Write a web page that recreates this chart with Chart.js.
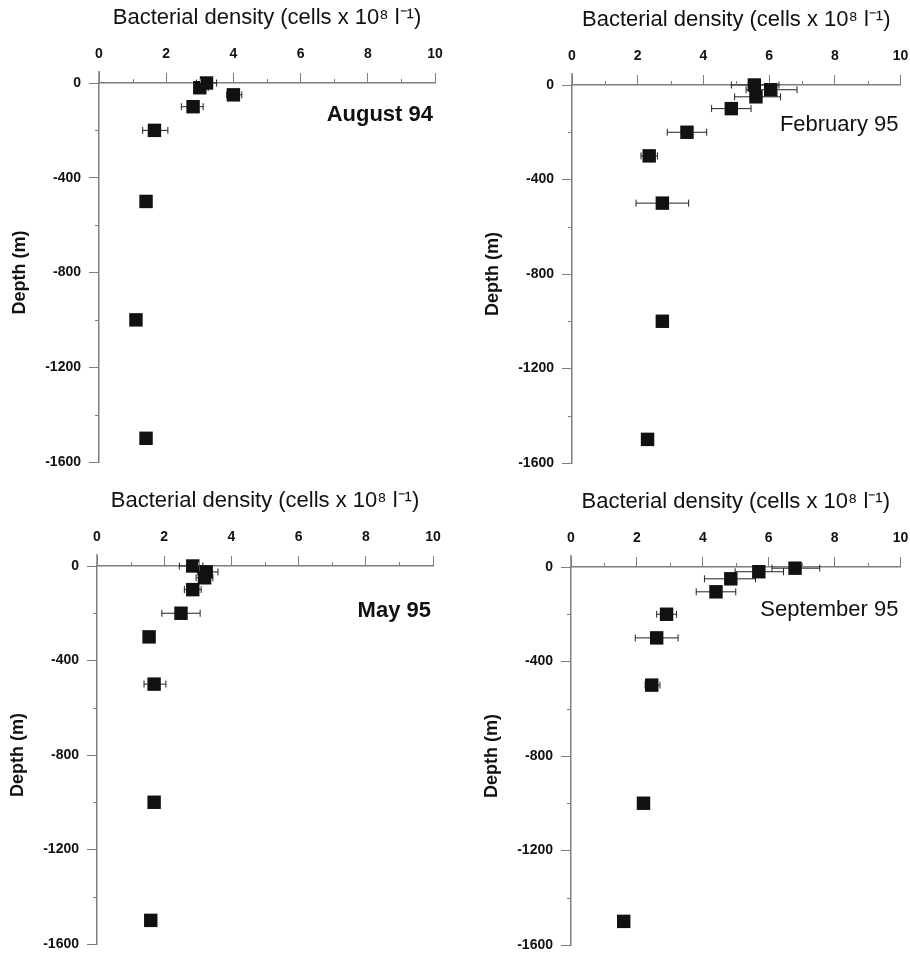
<!DOCTYPE html>
<html>
<head>
<meta charset="utf-8">
<script src="https://cdn.jsdelivr.net/npm/chart.js@4/dist/chart.umd.min.js"></script>
<style>
  html, body { margin: 0; padding: 0; background: #fff; }
  #figure { position: relative; width: 910px; height: 955px; overflow: hidden; }
  .panel { position: absolute; }
</style>
</head>
<body>
<div id="figure"></div>
<script>
// Bacterial density (cells x 10^8 l-1) vs depth (m), four cruises
const augDepth   = [0, -20, -50, -100, -200, -500, -1000, -1500];
const augDensity = [3.2, 3.0, 4.0, 2.8, 1.65, 1.4, 1.1, 1.4];
const augLo      = [2.9, 2.85, 3.8, 2.45, 1.3, null, null, null];
const augHi      = [3.5, 3.25, 4.25, 3.1, 2.05, null, null, null];

const febDepth   = [0, -20, -50, -100, -200, -300, -500, -1000, -1500];
const febDensity = [5.55, 6.05, 5.6, 4.85, 3.5, 2.35, 2.75, 2.75, 2.3];
const febLo      = [4.85, 5.3, 4.95, 4.25, 2.9, 2.1, 1.95, null, null];
const febHi      = [6.3, 6.85, 6.35, 5.45, 4.1, 2.6, 3.55, null, null];

const mayDepth   = [0, -25, -50, -100, -200, -300, -500, -1000, -1500];
const mayDensity = [2.85, 3.25, 3.2, 2.85, 2.5, 1.55, 1.7, 1.7, 1.6];
const mayLo      = [2.45, 3.0, 2.95, 2.6, 1.93, null, 1.4, null, null];
const mayHi      = [3.15, 3.6, 3.45, 3.1, 3.07, null, 2.05, null, null];

const sepDepth   = [-5, -20, -50, -105, -200, -300, -500, -1000, -1500];
const sepDensity = [6.8, 5.7, 4.85, 4.4, 2.9, 2.6, 2.45, 2.2, 1.6];
const sepLo      = [6.1, 4.98, 4.05, 3.8, 2.6, 1.95, 2.25, null, null];
const sepHi      = [7.55, 6.45, 5.6, 5.0, 3.2, 3.25, 2.7, null, null];

const densityTicks = [0, 2, 4, 6, 8, 10];
const densityMinor = [1, 3, 5, 7, 9];
const depthTicks   = [0, -400, -800, -1200, -1600];
const depthMinor   = [-200, -600, -1000, -1400];

const X_TITLE = "Bacterial density (cells x 10\u2078 l\u207B\u00B9)";
const Y_TITLE = "Depth (m)";
const FONT = "'Liberation Sans', Arial, Helvetica, sans-serif";
const AXIS_COLOR = "#7d7d7d";
const MARK_COLOR = "#111";

const panels = [
  { label: "August 94", labelWeight: "bold", labelDepth: -135,
    density: augDensity, depth: augDepth, lo: augLo, hi: augHi,
    box: { left: 0, top: 0, w: 455, h: 477 },
    area: { left: 99, top: 83, right: 435, bottom: 462 } },
  { label: "February 95", labelWeight: "normal", labelDepth: -170,
    density: febDensity, depth: febDepth, lo: febLo, hi: febHi,
    box: { left: 455, top: 0, w: 455, h: 477 },
    area: { left: 117, top: 85, right: 448, bottom: 463 } },
  { label: "May 95", labelWeight: "bold", labelDepth: -190,
    density: mayDensity, depth: mayDepth, lo: mayLo, hi: mayHi,
    box: { left: 0, top: 477, w: 455, h: 478 },
    area: { left: 97, top: 89, right: 433, bottom: 467 } },
  { label: "September 95", labelWeight: "normal", labelDepth: -183,
    density: sepDensity, depth: sepDepth, lo: sepLo, hi: sepHi,
    box: { left: 455, top: 477, w: 455, h: 478 },
    area: { left: 116, top: 90, right: 447, bottom: 468 } },
];

const Y_AXIS_WIDTH = 99;
const X_AXIS_HEIGHT = 83;

// Short unlabeled ticks between the labeled ones, plus the small stub of
// the depth axis that rises above the surface line
const minorTicksPlugin = {
  id: "minorTicks",
  afterDraw(chart) {
    const { ctx, chartArea, scales } = chart;
    ctx.save();
    ctx.strokeStyle = AXIS_COLOR;
    ctx.lineWidth = 1;
    ctx.beginPath();
    densityMinor.forEach((v) => {
      const px = Math.round(scales.x.getPixelForValue(v)) + 0.5;
      ctx.moveTo(px, chartArea.top);
      ctx.lineTo(px, chartArea.top - 4);
    });
    depthMinor.forEach((v) => {
      const py = Math.round(scales.y.getPixelForValue(v)) + 0.5;
      ctx.moveTo(chartArea.left, py);
      ctx.lineTo(chartArea.left - 4, py);
    });
    ctx.stroke();
    ctx.lineWidth = 1.5;
    ctx.beginPath();
    ctx.moveTo(chartArea.left, chartArea.top);
    ctx.lineTo(chartArea.left, chartArea.top - 12);
    ctx.stroke();
    ctx.restore();
  },
};

// Cruise name in the upper right of each panel
const panelLabelPlugin = {
  id: "panelLabel",
  afterDraw(chart, args, opts) {
    const { ctx, chartArea, scales } = chart;
    ctx.save();
    ctx.font = `${opts.weight} 22px ${FONT}`;
    ctx.fillStyle = "#111";
    ctx.textAlign = "right";
    ctx.textBaseline = "middle";
    ctx.fillText(opts.text, chartArea.right - 2, scales.y.getPixelForValue(opts.depth));
    ctx.restore();
  },
};

function errorBarData(p) {
  const pts = [];
  p.depth.forEach((d, i) => {
    if (p.lo[i] == null) return;
    pts.push({ x: p.lo[i], y: d }, { x: p.hi[i], y: d }, { x: null, y: null });
  });
  return pts;
}

function createPanel(p) {
  const wrap = document.createElement("div");
  wrap.className = "panel";
  wrap.style.left = p.box.left + "px";
  wrap.style.top = p.box.top + "px";
  const canvas = document.createElement("canvas");
  canvas.width = p.box.w;
  canvas.height = p.box.h;
  wrap.appendChild(canvas);
  document.getElementById("figure").appendChild(wrap);

  return new Chart(canvas.getContext("2d"), {
    type: "scatter",
    data: {
      datasets: [
        {
          label: p.label,
          data: p.density.map((v, i) => ({ x: v, y: p.depth[i] })),
          clip: false,
          pointStyle: "rect",
          pointRadius: 9.5,
          backgroundColor: MARK_COLOR,
          borderColor: MARK_COLOR,
          borderWidth: 0,
        },
        {
          label: "error",
          data: errorBarData(p),
          clip: false,
          showLine: true,
          spanGaps: false,
          borderColor: "#222",
          borderWidth: 1,
          pointStyle: "line",
          pointRotation: 90,
          pointRadius: 3.5,
          pointBorderColor: "#222",
          pointBorderWidth: 1,
        },
      ],
    },
    options: {
      responsive: false,
      animation: false,
      events: [],
      layout: {
        padding: {
          left: p.area.left - Y_AXIS_WIDTH,
          top: p.area.top - X_AXIS_HEIGHT,
          right: p.box.w - p.area.right,
          bottom: p.box.h - p.area.bottom,
        },
      },
      plugins: {
        legend: { display: false },
        tooltip: { enabled: false },
        panelLabel: { text: p.label, weight: p.labelWeight, depth: p.labelDepth },
      },
      scales: {
        x: {
          type: "linear",
          position: "top",
          min: 0,
          max: 10,
          afterBuildTicks: (scale) => {
            scale.ticks = densityTicks.map((v) => ({ value: v }));
          },
          afterFit: (scale) => {
            scale.height = X_AXIS_HEIGHT;
            scale.paddingLeft = 0;
            scale.paddingRight = 0;
          },
          grid: { drawOnChartArea: false, color: AXIS_COLOR, tickLength: 10 },
          border: { color: AXIS_COLOR, width: 1.5 },
          ticks: {
            color: "#111",
            padding: 10,
            maxRotation: 0,
            font: { family: FONT, size: 14, weight: "bold" },
            callback: (v) => String(v),
          },
          title: {
            display: true,
            text: X_TITLE,
            color: "#111",
            padding: { top: 5, bottom: 0 },
            font: { family: FONT, size: 22, weight: "normal" },
          },
        },
        y: {
          type: "linear",
          position: "left",
          min: -1600,
          max: 0,
          afterBuildTicks: (scale) => {
            scale.ticks = depthTicks.map((v) => ({ value: v }));
          },
          afterFit: (scale) => {
            scale.width = Y_AXIS_WIDTH;
            scale.paddingTop = 0;
            scale.paddingBottom = 0;
          },
          grid: { drawOnChartArea: false, color: AXIS_COLOR, tickLength: 10 },
          border: { color: AXIS_COLOR, width: 1.5 },
          ticks: {
            color: "#111",
            padding: 8,
            font: { family: FONT, size: 14, weight: "bold" },
            callback: (v) => String(v),
          },
          title: {
            display: true,
            text: Y_TITLE,
            color: "#111",
            padding: { top: 9, bottom: 0 },
            font: { family: FONT, size: 18, weight: "bold" },
          },
        },
      },
    },
    plugins: [minorTicksPlugin, panelLabelPlugin],
  });
}

panels.forEach(createPanel);
</script>
</body>
</html>
